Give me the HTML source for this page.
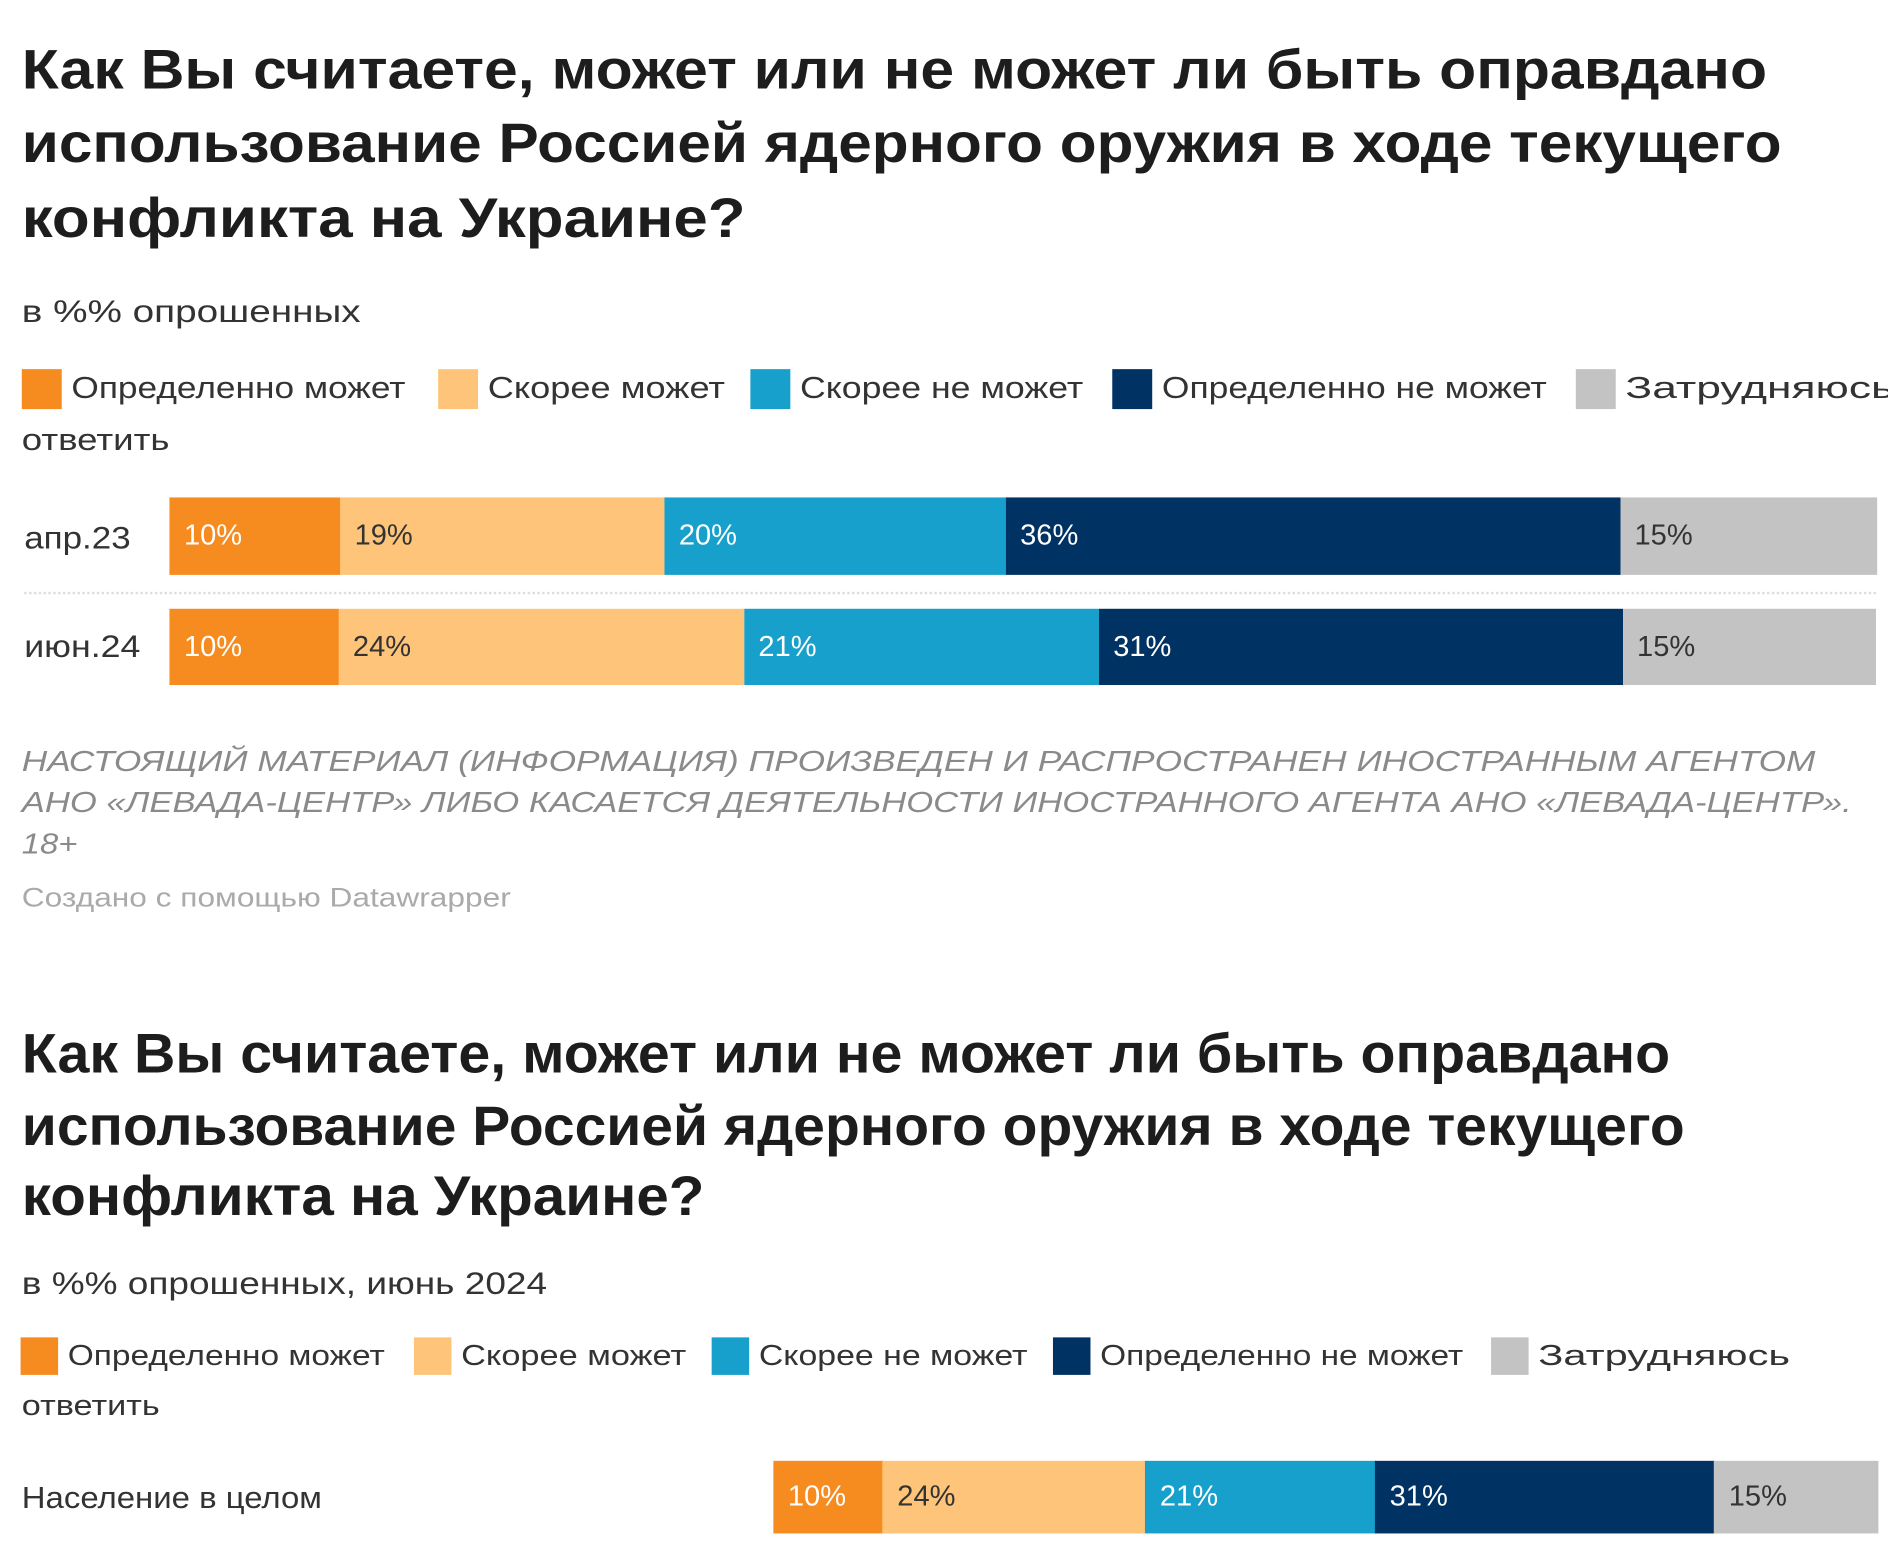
<!DOCTYPE html>
<html><head><meta charset="utf-8">
<style>
html,body{margin:0;padding:0;background:#fff;}
body{width:1888px;height:1566px;overflow:hidden;position:relative;}
#root{position:absolute;left:0;top:0;width:1560px;height:1294px;transform:scale(1.2103);transform-origin:0 0;font-family:"Liberation Sans","Noto Sans CJK SC",sans-serif;}
.t{position:absolute;white-space:nowrap;transform-origin:0 50%;line-height:1;}
.title{font-weight:bold;font-size:46px;color:#1d1d1d;}
.sub{font-size:26px;color:#333;}
.leg{font-size:25px;color:#333;}
.sq{position:absolute;}
.foot{font-size:24px;color:#8a8a8a;font-style:italic;}
.seg{position:absolute;}
.val{position:absolute;font-size:24px;line-height:1;white-space:nowrap;}
</style></head><body>
<div id="root">
<div class="t title" data-w="1442" style="left:18px;top:34px">Как Вы считаете, может или не может ли быть оправдано</div>
<div class="t title" data-w="1454" style="left:18px;top:95px">использование Россией ядерного оружия в ходе текущего</div>
<div class="t title" data-w="598" style="left:18px;top:157px">конфликта на Украине?</div>
<div class="t sub" data-w="280" style="left:18px;top:244px">в %% опрошенных</div>

<div id="legend1"></div>
<div class="t leg" data-w="122" style="left:18px;top:352px">ответить</div>

<div class="t sub" data-w="88" style="left:20px;top:431px">апр.23</div>
<div class="t sub" data-w="96" style="left:20px;top:521px">июн.24</div>
<div style="position:absolute;left:20px;top:489px;width:1530px;border-top:2px dotted #ddd"></div>
<div id="chart1"></div>

<div class="t foot" data-w="1482" style="left:18px;top:618px">НАСТОЯЩИЙ МАТЕРИАЛ (ИНФОРМАЦИЯ) ПРОИЗВЕДЕН И РАСПРОСТРАНЕН ИНОСТРАННЫМ АГЕНТОМ</div>
<div class="t foot" data-w="1512" style="left:18px;top:652px">АНО «ЛЕВАДА-ЦЕНТР» ЛИБО КАСАЕТСЯ ДЕЯТЕЛЬНОСТИ ИНОСТРАННОГО АГЕНТА АНО «ЛЕВАДА-ЦЕНТР».</div>
<div class="t foot" data-w="46" style="left:18px;top:686px">18+</div>
<div class="t" data-w="404" style="left:18px;top:731px;font-size:22px;color:#aaa">Создано с помощью Datawrapper</div>

<div class="t title" data-w="1362" style="left:18px;top:847px">Как Вы считаете, может или не может ли быть оправдано</div>
<div class="t title" data-w="1374" style="left:18px;top:907px">использование Россией ядерного оружия в ходе текущего</div>
<div class="t title" data-w="564" style="left:18px;top:965px">конфликта на Украине?</div>
<div class="t sub" data-w="434" style="left:18px;top:1047px">в %% опрошенных, июнь 2024</div>
<div id="legend2"></div>
<div class="t leg" data-w="114" style="left:18px;top:1150px;font-size:24px">ответить</div>
<div class="t sub" data-w="248" style="left:18px;top:1226px;font-size:25px">Население в целом</div>
<div id="chart2"></div>
</div>
<script>
const categories = ["Определенно может","Скорее может","Скорее не может","Определенно не может","Затрудняюсь"];
const colors = ["#f68b1f","#fec57a","#16a0cb","#003263","#c3c3c3"];
const textColors = ["#fff","#333","#fff","#fff","#333"];
const rows1 = ["апр.23","июн.24"];
const apr23 = [10,19,20,36,15];
const jun24 = [10,24,21,31,15];
const population = [10,24,21,31,15];

const root = document.getElementById('root');
function legend(containerId, xs, w, y, fs, textWidths){
  const c = document.getElementById(containerId);
  categories.forEach((cat,i)=>{
    const sq = document.createElement('div');
    sq.className='sq';
    
    
    sq.style.cssText=`left:${xs[i]}px;top:${y}px;width:${w}px;height:${w}px;background:${colors[i]}`;
    c.appendChild(sq);
    const t = document.createElement('div');
    t.className='t leg';
    
    
    t.style.cssText=`left:${xs[i]+w+8}px;top:${y+w/2-fs/2}px;font-size:${fs}px`;
    t.dataset.w = textWidths[i];
    t.textContent = cat;
    c.appendChild(t);
  });
}
legend('legend1',[18,362,620,919,1302],33,305,25,[276,196,234,318,222]);
legend('legend2',[17,342,588,870,1232],31,1105,24,[262,186,222,300,208]);

function bar(containerId, values, x0, x1, y, h){
  const c = document.getElementById(containerId);
  const total = values.reduce((a,b)=>a+b,0);
  const sx = v => (x1-x0)*v/total;
  let acc = 0;
  values.forEach((v,i)=>{
    const s = document.createElement('div');
    s.className='seg';
    
    
    s.style.cssText=`left:${x0+sx(acc)}px;top:${y}px;width:${sx(v)+0.5}px;height:${h}px;background:${colors[i]}`;
    c.appendChild(s);
    const l = document.createElement('div');
    l.className='val';
    
    
    l.style.cssText=`left:${x0+sx(acc)+12}px;top:${y+h/2-12}px;color:${textColors[i]}`;
    l.textContent = v+'%';
    c.appendChild(l);
    acc += v;
  });
}
bar('chart1', apr23, 140, 1550, 411, 64);
bar('chart1', jun24, 140, 1550, 503, 63);
bar('chart2', population, 639, 1552, 1207, 60);

document.querySelectorAll('[data-w]').forEach(el=>{
  const w = el.getBoundingClientRect().width/1.2103;
  const tw = +el.dataset.w;
  if(w>0) el.style.transform = `scaleX(${tw/w})`;
});
</script>
</body></html>
